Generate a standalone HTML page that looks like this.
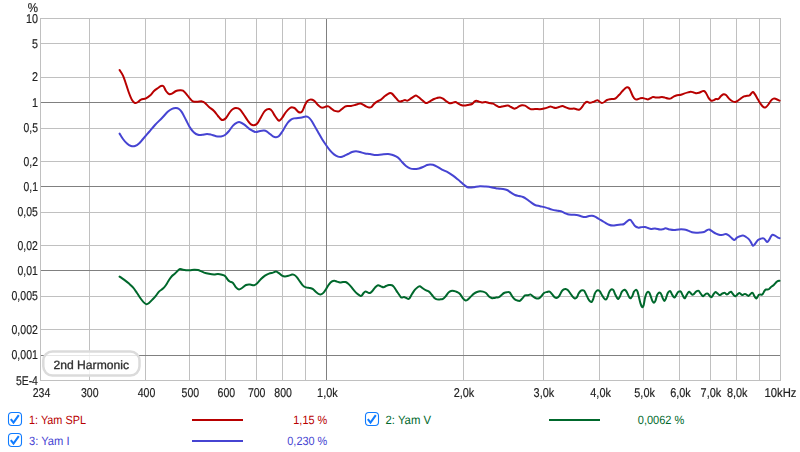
<!DOCTYPE html>
<html><head><meta charset="utf-8"><title>Distortion</title>
<style>html,body{margin:0;padding:0;background:#fff;overflow:hidden}svg{display:block}text{font-family:"Liberation Sans", sans-serif;font-size:12px;text-rendering:geometricPrecision}.ax text{font-size:12.8px;stroke:#222;stroke-width:0.18px}</style>
</head><body>
<svg width="800" height="452" viewBox="0 0 800 452">
<rect x="0" y="0" width="800" height="452" fill="#ffffff"/>
<g shape-rendering="crispEdges"><rect x="89" y="18" width="1" height="363" fill="#c0c0c0"/><rect x="145" y="18" width="1" height="363" fill="#c0c0c0"/><rect x="189" y="18" width="1" height="363" fill="#c0c0c0"/><rect x="225" y="18" width="1" height="363" fill="#c0c0c0"/><rect x="256" y="18" width="1" height="363" fill="#c0c0c0"/><rect x="282" y="18" width="1" height="363" fill="#c0c0c0"/><rect x="305" y="18" width="1" height="363" fill="#c0c0c0"/><rect x="326" y="18" width="1" height="363" fill="#808080"/><rect x="463" y="18" width="1" height="363" fill="#c0c0c0"/><rect x="543" y="18" width="1" height="363" fill="#c0c0c0"/><rect x="599" y="18" width="1" height="363" fill="#c0c0c0"/><rect x="643" y="18" width="1" height="363" fill="#c0c0c0"/><rect x="679" y="18" width="1" height="363" fill="#c0c0c0"/><rect x="710" y="18" width="1" height="363" fill="#c0c0c0"/><rect x="736" y="18" width="1" height="363" fill="#c0c0c0"/><rect x="759" y="18" width="1" height="363" fill="#c0c0c0"/><rect x="40" y="43" width="741" height="1" fill="#c0c0c0"/><rect x="40" y="77" width="741" height="1" fill="#c0c0c0"/><rect x="40" y="102" width="741" height="1" fill="#808080"/><rect x="40" y="128" width="741" height="1" fill="#c0c0c0"/><rect x="40" y="161" width="741" height="1" fill="#c0c0c0"/><rect x="40" y="186" width="741" height="1" fill="#808080"/><rect x="40" y="212" width="741" height="1" fill="#c0c0c0"/><rect x="40" y="245" width="741" height="1" fill="#c0c0c0"/><rect x="40" y="270" width="741" height="1" fill="#808080"/><rect x="40" y="296" width="741" height="1" fill="#c0c0c0"/><rect x="40" y="329" width="741" height="1" fill="#c0c0c0"/><rect x="40" y="355" width="741" height="1" fill="#808080"/><rect x="326" y="18" width="1" height="363" fill="#808080"/><rect x="40" y="18" width="741" height="1" fill="#c0c0c0"/><rect x="40" y="380" width="741" height="1" fill="#c0c0c0"/><rect x="40" y="18" width="1" height="363" fill="#c0c0c0"/><rect x="780" y="18" width="1" height="363" fill="#c0c0c0"/></g>
<path d="M119.60 276.60C120.33 277.10 122.43 278.43 124.00 279.60C125.57 280.77 127.50 282.30 129.00 283.60C130.50 284.90 131.67 285.83 133.00 287.40C134.33 288.97 135.67 291.07 137.00 293.00C138.33 294.93 139.83 297.40 141.00 299.00C142.17 300.60 143.10 301.73 144.00 302.60C144.90 303.47 145.57 304.13 146.40 304.20C147.23 304.27 147.90 303.87 149.00 303.00C150.10 302.13 151.83 300.23 153.00 299.00C154.17 297.77 155.00 296.83 156.00 295.60C157.00 294.37 157.83 292.77 159.00 291.60C160.17 290.43 161.83 289.70 163.00 288.60C164.17 287.50 165.00 286.43 166.00 285.00C167.00 283.57 168.00 281.50 169.00 280.00C170.00 278.50 171.00 277.07 172.00 276.00C173.00 274.93 174.00 274.53 175.00 273.60C176.00 272.67 177.17 271.17 178.00 270.40C178.83 269.63 179.27 269.13 180.00 269.00C180.73 268.87 181.40 269.40 182.40 269.60C183.40 269.80 184.73 270.10 186.00 270.20C187.27 270.30 188.67 270.27 190.00 270.20C191.33 270.13 192.67 269.83 194.00 269.80C195.33 269.77 196.83 269.77 198.00 270.00C199.17 270.23 200.00 270.77 201.00 271.20C202.00 271.63 202.67 272.17 204.00 272.60C205.33 273.03 207.33 273.50 209.00 273.80C210.67 274.10 212.50 274.37 214.00 274.40C215.50 274.43 216.67 273.93 218.00 274.00C219.33 274.07 220.83 274.47 222.00 274.80C223.17 275.13 224.00 275.13 225.00 276.00C226.00 276.87 227.17 279.07 228.00 280.00C228.83 280.93 229.17 281.10 230.00 281.60C230.83 282.10 232.00 282.03 233.00 283.00C234.00 283.97 235.00 286.33 236.00 287.40C237.00 288.47 238.00 289.30 239.00 289.40C240.00 289.50 240.83 288.73 242.00 288.00C243.17 287.27 244.67 285.57 246.00 285.00C247.33 284.43 248.67 284.57 250.00 284.60C251.33 284.63 252.83 285.37 254.00 285.20C255.17 285.03 255.83 284.63 257.00 283.60C258.17 282.57 259.67 280.33 261.00 279.00C262.33 277.67 263.67 276.50 265.00 275.60C266.33 274.70 267.67 274.10 269.00 273.60C270.33 273.10 271.83 272.93 273.00 272.60C274.17 272.27 275.00 271.50 276.00 271.60C277.00 271.70 278.00 272.53 279.00 273.20C280.00 273.87 281.00 275.07 282.00 275.60C283.00 276.13 283.83 276.40 285.00 276.40C286.17 276.40 287.83 275.90 289.00 275.60C290.17 275.30 291.10 274.70 292.00 274.60C292.90 274.50 293.57 274.53 294.40 275.00C295.23 275.47 296.07 276.30 297.00 277.40C297.93 278.50 299.00 280.23 300.00 281.60C301.00 282.97 302.00 284.63 303.00 285.60C304.00 286.57 304.83 287.00 306.00 287.40C307.17 287.80 308.83 287.70 310.00 288.00C311.17 288.30 312.00 288.53 313.00 289.20C314.00 289.87 315.00 291.17 316.00 292.00C317.00 292.83 318.17 293.80 319.00 294.20C319.83 294.60 320.23 294.67 321.00 294.40C321.77 294.13 322.77 293.47 323.60 292.60C324.43 291.73 325.10 290.57 326.00 289.20C326.90 287.83 328.00 285.70 329.00 284.40C330.00 283.10 331.10 282.00 332.00 281.40C332.90 280.80 333.57 280.77 334.40 280.80C335.23 280.83 336.07 281.33 337.00 281.60C337.93 281.87 339.00 282.33 340.00 282.40C341.00 282.47 342.07 282.07 343.00 282.00C343.93 281.93 344.77 281.73 345.60 282.00C346.43 282.27 347.10 282.83 348.00 283.60C348.90 284.37 350.00 285.47 351.00 286.60C352.00 287.73 353.00 289.23 354.00 290.40C355.00 291.57 356.00 292.73 357.00 293.60C358.00 294.47 359.23 295.23 360.00 295.60C360.77 295.97 361.00 296.23 361.60 295.80C362.20 295.37 362.93 293.70 363.60 293.00C364.27 292.30 364.87 291.67 365.60 291.60C366.33 291.53 367.27 292.37 368.00 292.60C368.73 292.83 369.27 293.27 370.00 293.00C370.73 292.73 371.57 291.90 372.40 291.00C373.23 290.10 374.07 288.57 375.00 287.60C375.93 286.63 377.00 285.40 378.00 285.20C379.00 285.00 380.07 286.07 381.00 286.40C381.93 286.73 382.77 287.27 383.60 287.20C384.43 287.13 385.10 286.37 386.00 286.00C386.90 285.63 388.00 285.13 389.00 285.00C390.00 284.87 391.17 284.87 392.00 285.20C392.83 285.53 393.17 285.93 394.00 287.00C394.83 288.07 396.00 290.10 397.00 291.60C398.00 293.10 399.23 295.00 400.00 296.00C400.77 297.00 400.93 297.43 401.60 297.60C402.27 297.77 403.20 296.93 404.00 297.00C404.80 297.07 405.57 297.70 406.40 298.00C407.23 298.30 408.07 299.47 409.00 298.80C409.93 298.13 411.00 295.53 412.00 294.00C413.00 292.47 414.00 290.77 415.00 289.60C416.00 288.43 417.17 287.57 418.00 287.00C418.83 286.43 419.27 286.03 420.00 286.20C420.73 286.37 421.47 287.33 422.40 288.00C423.33 288.67 424.50 289.60 425.60 290.20C426.70 290.80 427.93 290.80 429.00 291.60C430.07 292.40 431.10 293.93 432.00 295.00C432.90 296.07 433.57 297.27 434.40 298.00C435.23 298.73 436.07 299.17 437.00 299.40C437.93 299.63 439.00 299.50 440.00 299.40C441.00 299.30 442.07 299.30 443.00 298.80C443.93 298.30 444.70 297.43 445.60 296.40C446.50 295.37 447.50 293.50 448.40 292.60C449.30 291.70 450.07 291.27 451.00 291.00C451.93 290.73 453.00 290.83 454.00 291.00C455.00 291.17 456.00 291.50 457.00 292.00C458.00 292.50 459.00 292.93 460.00 294.00C461.00 295.07 462.07 297.30 463.00 298.40C463.93 299.50 464.77 300.43 465.60 300.60C466.43 300.77 467.10 300.10 468.00 299.40C468.90 298.70 470.00 297.37 471.00 296.40C472.00 295.43 473.00 294.33 474.00 293.60C475.00 292.87 476.00 292.40 477.00 292.00C478.00 291.60 479.00 291.27 480.00 291.20C481.00 291.13 482.00 291.30 483.00 291.60C484.00 291.90 485.00 292.20 486.00 293.00C487.00 293.80 488.07 295.57 489.00 296.40C489.93 297.23 490.77 297.73 491.60 298.00C492.43 298.27 493.20 298.10 494.00 298.00C494.80 297.90 495.57 297.53 496.40 297.40C497.23 297.27 498.13 297.60 499.00 297.20C499.87 296.80 500.77 295.70 501.60 295.00C502.43 294.30 503.10 293.47 504.00 293.00C504.90 292.53 506.07 292.30 507.00 292.20C507.93 292.10 508.77 291.77 509.60 292.40C510.43 293.03 511.20 294.90 512.00 296.00C512.80 297.10 513.57 298.27 514.40 299.00C515.23 299.73 516.07 300.10 517.00 300.40C517.93 300.70 519.10 301.13 520.00 300.80C520.90 300.47 521.57 299.30 522.40 298.40C523.23 297.50 524.07 295.93 525.00 295.40C525.93 294.87 527.10 295.37 528.00 295.20C528.90 295.03 529.57 294.20 530.40 294.40C531.23 294.60 532.07 295.77 533.00 296.40C533.93 297.03 535.00 297.90 536.00 298.20C537.00 298.50 538.07 298.57 539.00 298.20C539.93 297.83 540.77 296.87 541.60 296.00C542.43 295.13 543.10 293.67 544.00 293.00C544.90 292.33 546.07 292.23 547.00 292.00C547.93 291.77 548.72 291.20 549.60 291.60C550.48 292.00 551.48 293.48 552.30 294.40C553.12 295.32 553.68 296.53 554.50 297.10C555.32 297.67 556.40 298.00 557.20 297.80C558.00 297.60 558.55 296.97 559.30 295.90C560.05 294.83 560.95 292.48 561.70 291.40C562.45 290.32 563.17 289.82 563.80 289.40C564.43 288.98 564.85 288.80 565.50 288.90C566.15 289.00 566.90 289.27 567.70 290.00C568.50 290.73 569.48 292.20 570.30 293.30C571.12 294.40 571.85 295.75 572.60 296.60C573.35 297.45 574.10 298.27 574.80 298.40C575.50 298.53 576.17 298.20 576.80 297.40C577.43 296.60 577.98 294.68 578.60 293.60C579.22 292.52 579.88 291.45 580.50 290.90C581.12 290.35 581.67 290.30 582.30 290.30C582.93 290.30 583.67 290.22 584.30 290.90C584.93 291.58 585.43 293.07 586.10 294.40C586.77 295.73 587.60 297.70 588.30 298.90C589.00 300.10 589.73 301.10 590.30 301.60C590.87 302.10 591.20 302.35 591.70 301.90C592.20 301.45 592.78 300.28 593.30 298.90C593.82 297.52 594.25 294.93 594.80 293.60C595.35 292.27 596.05 291.45 596.60 290.90C597.15 290.35 597.55 290.22 598.10 290.30C598.65 290.38 599.27 290.60 599.90 291.40C600.53 292.20 601.20 293.93 601.90 295.10C602.60 296.27 603.43 297.65 604.10 298.40C604.77 299.15 605.35 299.77 605.90 299.60C606.45 299.43 606.90 298.52 607.40 297.40C607.90 296.28 608.38 294.10 608.90 292.90C609.42 291.70 609.98 290.82 610.50 290.20C611.02 289.58 611.50 289.18 612.00 289.20C612.50 289.22 612.93 289.37 613.50 290.30C614.07 291.23 614.78 293.50 615.40 294.80C616.02 296.10 616.70 297.42 617.20 298.10C617.70 298.78 617.95 299.15 618.40 298.90C618.85 298.65 619.35 297.73 619.90 296.60C620.45 295.47 621.12 293.17 621.70 292.10C622.28 291.03 622.90 290.58 623.40 290.20C623.90 289.82 624.20 289.60 624.70 289.80C625.20 290.00 625.82 290.52 626.40 291.40C626.98 292.28 627.65 294.03 628.20 295.10C628.75 296.17 629.25 297.30 629.70 297.80C630.15 298.30 630.45 298.42 630.90 298.10C631.35 297.78 631.90 296.95 632.40 295.90C632.90 294.85 633.42 292.75 633.90 291.80C634.38 290.85 634.87 290.50 635.30 290.20C635.73 289.90 636.10 289.68 636.50 290.00C636.90 290.32 637.28 290.87 637.70 292.10C638.12 293.33 638.53 295.52 639.00 297.40C639.47 299.28 640.05 301.90 640.50 303.40C640.95 304.90 641.35 305.78 641.70 306.40C642.05 307.02 642.27 307.35 642.60 307.10C642.93 306.85 643.30 306.40 643.70 304.90C644.10 303.40 644.53 300.03 645.00 298.10C645.47 296.17 646.00 294.37 646.50 293.30C647.00 292.23 647.50 291.77 648.00 291.70C648.50 291.63 648.98 291.95 649.50 292.90C650.02 293.85 650.57 295.95 651.10 297.40C651.63 298.85 652.18 300.73 652.70 301.60C653.22 302.47 653.72 302.80 654.20 302.60C654.68 302.40 655.12 301.65 655.60 300.40C656.08 299.15 656.60 296.35 657.10 295.10C657.60 293.85 658.15 293.30 658.60 292.90C659.05 292.50 659.35 292.45 659.80 292.70C660.25 292.95 660.80 293.45 661.30 294.40C661.80 295.35 662.28 297.32 662.80 298.40C663.32 299.48 663.88 300.88 664.40 300.90C664.92 300.92 665.35 299.78 665.90 298.50C666.45 297.22 667.13 294.38 667.70 293.20C668.27 292.02 668.83 291.70 669.30 291.40C669.77 291.10 670.05 290.90 670.50 291.40C670.95 291.90 671.50 293.48 672.00 294.40C672.50 295.32 673.05 296.40 673.50 296.90C673.95 297.40 674.25 297.70 674.70 297.40C675.15 297.10 675.65 295.98 676.20 295.10C676.75 294.22 677.45 292.72 678.00 292.10C678.55 291.48 679.00 291.45 679.50 291.40C680.00 291.35 680.48 291.18 681.00 291.80C681.52 292.42 682.08 294.10 682.60 295.10C683.12 296.10 683.68 297.30 684.10 297.80C684.52 298.30 684.68 298.55 685.10 298.10C685.52 297.65 686.10 296.02 686.60 295.10C687.10 294.18 687.65 293.15 688.10 292.60C688.55 292.05 688.85 291.68 689.30 291.80C689.75 291.92 690.30 292.82 690.80 293.30C691.30 293.78 691.80 294.57 692.30 294.70C692.80 294.83 693.25 294.53 693.80 294.10C694.35 293.67 695.02 292.63 695.60 292.10C696.18 291.57 696.80 291.12 697.30 290.90C697.80 290.68 698.12 290.47 698.60 290.80C699.08 291.13 699.68 292.18 700.20 292.90C700.72 293.62 701.20 294.55 701.70 295.10C702.20 295.65 702.68 296.27 703.20 296.20C703.72 296.13 704.28 295.13 704.80 294.70C705.32 294.27 705.80 293.78 706.30 293.60C706.80 293.42 707.30 293.30 707.80 293.60C708.30 293.90 708.80 294.85 709.30 295.40C709.80 295.95 710.37 296.65 710.80 296.90C711.23 297.15 711.47 297.32 711.90 296.90C712.33 296.48 712.90 295.15 713.40 294.40C713.90 293.65 714.48 292.78 714.90 292.40C715.32 292.02 715.48 291.95 715.90 292.10C716.32 292.25 716.87 292.85 717.40 293.30C717.93 293.75 718.57 294.55 719.10 294.80C719.63 295.05 720.10 295.00 720.60 294.80C721.10 294.60 721.55 293.92 722.10 293.60C722.65 293.28 723.40 293.00 723.90 292.90C724.40 292.80 724.65 292.75 725.10 293.00C725.55 293.25 726.10 294.25 726.60 294.40C727.10 294.55 727.60 294.23 728.10 293.90C728.60 293.57 729.10 292.75 729.60 292.40C730.10 292.05 730.60 291.60 731.10 291.80C731.60 292.00 732.10 292.97 732.60 293.60C733.10 294.23 733.60 295.15 734.10 295.60C734.60 296.05 735.10 296.43 735.60 296.30C736.10 296.17 736.60 295.30 737.10 294.80C737.60 294.30 738.17 293.57 738.60 293.30C739.03 293.03 739.27 293.02 739.70 293.20C740.13 293.38 740.70 294.08 741.20 294.40C741.70 294.72 742.20 295.15 742.70 295.10C743.20 295.05 743.70 294.27 744.20 294.10C744.70 293.93 745.20 293.93 745.70 294.10C746.20 294.27 746.70 294.80 747.20 295.10C747.70 295.40 748.20 296.02 748.70 295.90C749.20 295.78 749.70 294.90 750.20 294.40C750.70 293.90 751.25 293.10 751.70 292.90C752.15 292.70 752.47 292.70 752.90 293.20C753.33 293.70 753.87 295.13 754.30 295.90C754.73 296.67 755.13 297.38 755.50 297.80C755.87 298.22 756.13 298.60 756.50 298.40C756.87 298.20 757.30 297.22 757.70 296.60C758.10 295.98 758.47 295.07 758.90 294.70C759.33 294.33 759.82 294.38 760.30 294.40C760.78 294.42 761.35 294.93 761.80 294.80C762.25 294.67 762.55 294.25 763.00 293.60C763.45 292.95 764.00 291.58 764.50 290.90C765.00 290.22 765.37 289.75 766.00 289.50C766.63 289.25 767.67 289.60 768.30 289.40C768.93 289.20 769.30 288.73 769.80 288.30C770.30 287.87 770.68 287.30 771.30 286.80C771.92 286.30 772.80 285.92 773.50 285.30C774.20 284.68 774.87 283.77 775.50 283.10C776.13 282.43 776.63 281.68 777.30 281.30C777.97 280.92 779.13 280.88 779.50 280.80" fill="none" stroke="#00682c" stroke-width="2.0" stroke-linecap="round" stroke-linejoin="round"/>
<path d="M119.60 133.60C120.17 134.50 121.77 137.33 123.00 139.00C124.23 140.67 125.67 142.43 127.00 143.60C128.33 144.77 129.67 145.60 131.00 146.00C132.33 146.40 133.67 146.40 135.00 146.00C136.33 145.60 137.67 144.77 139.00 143.60C140.33 142.43 141.33 140.93 143.00 139.00C144.67 137.07 147.00 134.33 149.00 132.00C151.00 129.67 152.83 127.33 155.00 125.00C157.17 122.67 159.83 120.23 162.00 118.00C164.17 115.77 166.33 113.13 168.00 111.60C169.67 110.07 170.67 109.40 172.00 108.80C173.33 108.20 174.83 107.97 176.00 108.00C177.17 108.03 178.00 108.27 179.00 109.00C180.00 109.73 180.83 110.57 182.00 112.40C183.17 114.23 184.67 117.47 186.00 120.00C187.33 122.53 188.67 125.53 190.00 127.60C191.33 129.67 192.67 131.20 194.00 132.40C195.33 133.60 196.67 134.40 198.00 134.80C199.33 135.20 200.50 134.93 202.00 134.80C203.50 134.67 205.50 134.03 207.00 134.00C208.50 133.97 209.50 134.23 211.00 134.60C212.50 134.97 214.33 135.90 216.00 136.20C217.67 136.50 219.50 136.60 221.00 136.40C222.50 136.20 223.67 135.90 225.00 135.00C226.33 134.10 227.67 132.57 229.00 131.00C230.33 129.43 231.67 127.00 233.00 125.60C234.33 124.20 235.83 123.17 237.00 122.60C238.17 122.03 238.83 121.90 240.00 122.20C241.17 122.50 242.50 123.33 244.00 124.40C245.50 125.47 247.50 127.50 249.00 128.60C250.50 129.70 251.83 130.43 253.00 131.00C254.17 131.57 254.83 132.00 256.00 132.00C257.17 132.00 258.67 131.23 260.00 131.00C261.33 130.77 262.83 130.50 264.00 130.60C265.17 130.70 266.00 131.03 267.00 131.60C268.00 132.17 269.00 133.20 270.00 134.00C271.00 134.80 272.00 135.87 273.00 136.40C274.00 136.93 275.00 137.27 276.00 137.20C277.00 137.13 278.00 136.87 279.00 136.00C280.00 135.13 281.00 133.50 282.00 132.00C283.00 130.50 284.00 128.60 285.00 127.00C286.00 125.40 287.00 123.63 288.00 122.40C289.00 121.17 290.00 120.27 291.00 119.60C292.00 118.93 292.83 118.67 294.00 118.40C295.17 118.13 296.67 118.17 298.00 118.00C299.33 117.83 300.73 117.63 302.00 117.40C303.27 117.17 304.60 116.67 305.60 116.60C306.60 116.53 307.10 116.43 308.00 117.00C308.90 117.57 310.00 118.67 311.00 120.00C312.00 121.33 312.83 123.00 314.00 125.00C315.17 127.00 316.67 129.67 318.00 132.00C319.33 134.33 320.67 136.83 322.00 139.00C323.33 141.17 324.67 143.10 326.00 145.00C327.33 146.90 328.67 148.83 330.00 150.40C331.33 151.97 332.67 153.37 334.00 154.40C335.33 155.43 336.83 156.17 338.00 156.60C339.17 157.03 340.00 157.10 341.00 157.00C342.00 156.90 342.83 156.50 344.00 156.00C345.17 155.50 346.67 154.67 348.00 154.00C349.33 153.33 350.67 152.47 352.00 152.00C353.33 151.53 354.67 151.20 356.00 151.20C357.33 151.20 358.50 151.63 360.00 152.00C361.50 152.37 363.33 153.07 365.00 153.40C366.67 153.73 368.17 153.73 370.00 154.00C371.83 154.27 374.00 154.93 376.00 155.00C378.00 155.07 380.00 154.57 382.00 154.40C384.00 154.23 386.33 153.93 388.00 154.00C389.67 154.07 390.67 154.40 392.00 154.80C393.33 155.20 394.83 155.80 396.00 156.40C397.17 157.00 398.00 157.47 399.00 158.40C400.00 159.33 400.83 160.73 402.00 162.00C403.17 163.27 404.67 164.93 406.00 166.00C407.33 167.07 408.67 167.90 410.00 168.40C411.33 168.90 412.50 169.00 414.00 169.00C415.50 169.00 417.50 168.73 419.00 168.40C420.50 168.07 421.67 167.57 423.00 167.00C424.33 166.43 425.83 165.43 427.00 165.00C428.17 164.57 429.00 164.43 430.00 164.40C431.00 164.37 431.83 164.43 433.00 164.80C434.17 165.17 435.50 165.80 437.00 166.60C438.50 167.40 440.17 168.63 442.00 169.60C443.83 170.57 446.17 171.40 448.00 172.40C449.83 173.40 451.33 174.40 453.00 175.60C454.67 176.80 456.33 178.20 458.00 179.60C459.67 181.00 461.50 182.77 463.00 184.00C464.50 185.23 465.83 186.40 467.00 187.00C468.17 187.60 468.83 187.57 470.00 187.60C471.17 187.63 472.33 187.43 474.00 187.20C475.67 186.97 478.00 186.30 480.00 186.20C482.00 186.10 484.00 186.40 486.00 186.60C488.00 186.80 490.00 187.07 492.00 187.40C494.00 187.73 496.17 188.33 498.00 188.60C499.83 188.87 501.50 188.77 503.00 189.00C504.50 189.23 505.67 189.40 507.00 190.00C508.33 190.60 509.67 191.77 511.00 192.60C512.33 193.43 513.67 194.43 515.00 195.00C516.33 195.57 517.67 195.67 519.00 196.00C520.33 196.33 521.67 196.43 523.00 197.00C524.33 197.57 525.67 198.50 527.00 199.40C528.33 200.30 529.67 201.47 531.00 202.40C532.33 203.33 533.50 204.37 535.00 205.00C536.50 205.63 538.17 205.77 540.00 206.20C541.83 206.63 544.00 207.03 546.00 207.60C548.00 208.17 550.00 209.07 552.00 209.60C554.00 210.13 556.33 210.47 558.00 210.80C559.67 211.13 560.67 211.13 562.00 211.60C563.33 212.07 564.83 213.10 566.00 213.60C567.17 214.10 567.83 214.40 569.00 214.60C570.17 214.80 571.50 214.70 573.00 214.80C574.50 214.90 576.67 214.97 578.00 215.20C579.33 215.43 579.83 215.90 581.00 216.20C582.17 216.50 583.67 217.03 585.00 217.00C586.33 216.97 587.83 216.20 589.00 216.00C590.17 215.80 591.00 215.70 592.00 215.80C593.00 215.90 593.83 216.07 595.00 216.60C596.17 217.13 597.50 218.10 599.00 219.00C600.50 219.90 602.33 221.03 604.00 222.00C605.67 222.97 607.50 224.20 609.00 224.80C610.50 225.40 611.67 225.57 613.00 225.60C614.33 225.63 615.67 225.17 617.00 225.00C618.33 224.83 619.83 224.77 621.00 224.60C622.17 224.43 623.00 224.53 624.00 224.00C625.00 223.47 626.17 222.07 627.00 221.40C627.83 220.73 628.40 220.23 629.00 220.00C629.60 219.77 630.03 219.60 630.60 220.00C631.17 220.40 631.67 221.40 632.40 222.40C633.13 223.40 634.07 225.13 635.00 226.00C635.93 226.87 637.00 227.40 638.00 227.60C639.00 227.80 639.83 227.30 641.00 227.20C642.17 227.10 643.83 226.87 645.00 227.00C646.17 227.13 647.00 227.67 648.00 228.00C649.00 228.33 649.83 228.93 651.00 229.00C652.17 229.07 653.50 228.30 655.00 228.40C656.50 228.50 658.67 229.47 660.00 229.60C661.33 229.73 662.07 229.42 663.00 229.20C663.93 228.98 664.43 228.23 665.60 228.30C666.77 228.37 668.60 229.30 670.00 229.60C671.40 229.90 672.50 230.13 674.00 230.10C675.50 230.07 677.33 229.50 679.00 229.40C680.67 229.30 682.50 229.30 684.00 229.50C685.50 229.70 686.67 230.13 688.00 230.60C689.33 231.07 690.67 231.93 692.00 232.30C693.33 232.67 694.67 232.75 696.00 232.80C697.33 232.85 698.67 232.73 700.00 232.60C701.33 232.47 702.83 232.40 704.00 232.00C705.17 231.60 706.13 230.63 707.00 230.20C707.87 229.77 708.37 229.23 709.20 229.40C710.03 229.57 710.87 230.50 712.00 231.20C713.13 231.90 714.67 232.97 716.00 233.60C717.33 234.23 718.83 234.80 720.00 235.00C721.17 235.20 722.00 234.97 723.00 234.80C724.00 234.63 725.00 233.87 726.00 234.00C727.00 234.13 728.00 234.87 729.00 235.60C730.00 236.33 731.10 237.67 732.00 238.40C732.90 239.13 733.57 240.13 734.40 240.00C735.23 239.87 736.07 238.23 737.00 237.60C737.93 236.97 739.00 236.53 740.00 236.20C741.00 235.87 742.00 235.47 743.00 235.60C744.00 235.73 745.00 236.37 746.00 237.00C747.00 237.63 748.17 238.50 749.00 239.40C749.83 240.30 750.33 241.33 751.00 242.40C751.67 243.47 752.33 245.53 753.00 245.80C753.67 246.07 754.17 244.97 755.00 244.00C755.83 243.03 757.00 240.90 758.00 240.00C759.00 239.10 760.07 238.87 761.00 238.60C761.93 238.33 762.83 238.10 763.60 238.40C764.37 238.70 765.00 239.80 765.60 240.40C766.20 241.00 766.63 242.07 767.20 242.00C767.77 241.93 768.37 240.93 769.00 240.00C769.63 239.07 770.40 237.27 771.00 236.40C771.60 235.53 771.93 234.93 772.60 234.80C773.27 234.67 774.10 235.13 775.00 235.60C775.90 236.07 777.23 237.17 778.00 237.60C778.77 238.03 779.33 238.10 779.60 238.20" fill="none" stroke="#4644d2" stroke-width="2.0" stroke-linecap="round" stroke-linejoin="round"/>
<path d="M119.60 70.00C120.17 70.93 121.93 73.27 123.00 75.60C124.07 77.93 125.00 81.10 126.00 84.00C127.00 86.90 128.00 90.33 129.00 93.00C130.00 95.67 131.00 98.33 132.00 100.00C133.00 101.67 134.00 102.67 135.00 103.00C136.00 103.33 137.00 102.57 138.00 102.00C139.00 101.43 139.67 100.20 141.00 99.60C142.33 99.00 144.50 99.07 146.00 98.40C147.50 97.73 148.67 96.83 150.00 95.60C151.33 94.37 152.67 92.27 154.00 91.00C155.33 89.73 156.83 88.83 158.00 88.00C159.17 87.17 160.07 86.27 161.00 86.00C161.93 85.73 162.77 85.57 163.60 86.40C164.43 87.23 165.10 89.73 166.00 91.00C166.90 92.27 168.00 93.57 169.00 94.00C170.00 94.43 170.83 94.10 172.00 93.60C173.17 93.10 174.67 91.57 176.00 91.00C177.33 90.43 178.83 90.27 180.00 90.20C181.17 90.13 182.00 90.03 183.00 90.60C184.00 91.17 184.83 92.27 186.00 93.60C187.17 94.93 188.83 97.30 190.00 98.60C191.17 99.90 191.83 100.87 193.00 101.40C194.17 101.93 195.50 101.80 197.00 101.80C198.50 101.80 200.67 101.20 202.00 101.40C203.33 101.60 203.83 102.07 205.00 103.00C206.17 103.93 207.50 105.67 209.00 107.00C210.50 108.33 212.50 109.50 214.00 111.00C215.50 112.50 216.83 114.60 218.00 116.00C219.17 117.40 220.17 118.73 221.00 119.40C221.83 120.07 222.17 120.23 223.00 120.00C223.83 119.77 224.83 119.33 226.00 118.00C227.17 116.67 228.83 113.50 230.00 112.00C231.17 110.50 232.00 109.67 233.00 109.00C234.00 108.33 234.83 107.93 236.00 108.00C237.17 108.07 238.67 108.23 240.00 109.40C241.33 110.57 242.67 113.07 244.00 115.00C245.33 116.93 246.83 119.43 248.00 121.00C249.17 122.57 250.00 123.70 251.00 124.40C252.00 125.10 253.00 125.30 254.00 125.20C255.00 125.10 256.00 124.83 257.00 123.80C258.00 122.77 258.83 120.97 260.00 119.00C261.17 117.03 262.83 113.60 264.00 112.00C265.17 110.40 266.10 109.90 267.00 109.40C267.90 108.90 268.57 108.73 269.40 109.00C270.23 109.27 271.07 109.83 272.00 111.00C272.93 112.17 274.00 114.50 275.00 116.00C276.00 117.50 277.27 119.23 278.00 120.00C278.73 120.77 278.73 120.93 279.40 120.60C280.07 120.27 280.90 119.43 282.00 118.00C283.10 116.57 284.67 113.67 286.00 112.00C287.33 110.33 288.90 108.77 290.00 108.00C291.10 107.23 291.77 107.33 292.60 107.40C293.43 107.47 294.10 107.70 295.00 108.40C295.90 109.10 297.10 110.90 298.00 111.60C298.90 112.30 299.67 112.70 300.40 112.60C301.13 112.50 301.63 112.27 302.40 111.00C303.17 109.73 304.17 106.67 305.00 105.00C305.83 103.33 306.57 101.90 307.40 101.00C308.23 100.10 309.17 99.80 310.00 99.60C310.83 99.40 311.57 99.47 312.40 99.80C313.23 100.13 314.07 100.73 315.00 101.60C315.93 102.47 317.00 104.03 318.00 105.00C319.00 105.97 320.17 106.97 321.00 107.40C321.83 107.83 322.17 107.73 323.00 107.60C323.83 107.47 325.10 106.80 326.00 106.60C326.90 106.40 327.57 106.10 328.40 106.40C329.23 106.70 330.07 107.70 331.00 108.40C331.93 109.10 332.83 110.10 334.00 110.60C335.17 111.10 337.07 111.33 338.00 111.40C338.93 111.47 338.93 111.40 339.60 111.00C340.27 110.60 341.10 109.73 342.00 109.00C342.90 108.27 344.00 107.10 345.00 106.60C346.00 106.10 347.00 106.10 348.00 106.00C349.00 105.90 349.83 106.17 351.00 106.00C352.17 105.83 353.83 105.33 355.00 105.00C356.17 104.67 357.10 104.23 358.00 104.00C358.90 103.77 359.57 103.50 360.40 103.60C361.23 103.70 362.07 104.13 363.00 104.60C363.93 105.07 365.00 105.93 366.00 106.40C367.00 106.87 368.10 107.30 369.00 107.40C369.90 107.50 370.57 107.57 371.40 107.00C372.23 106.43 373.07 104.90 374.00 104.00C374.93 103.10 375.83 102.33 377.00 101.60C378.17 100.87 379.67 100.53 381.00 99.60C382.33 98.67 383.83 96.93 385.00 96.00C386.17 95.07 387.17 94.50 388.00 94.00C388.83 93.50 389.33 93.07 390.00 93.00C390.67 92.93 391.17 92.93 392.00 93.60C392.83 94.27 394.00 95.87 395.00 97.00C396.00 98.13 397.10 99.63 398.00 100.40C398.90 101.17 399.57 101.57 400.40 101.60C401.23 101.63 402.23 100.87 403.00 100.60C403.77 100.33 404.23 100.00 405.00 100.00C405.77 100.00 406.60 100.87 407.60 100.60C408.60 100.33 409.93 99.10 411.00 98.40C412.07 97.70 413.17 96.87 414.00 96.40C414.83 95.93 415.27 95.50 416.00 95.60C416.73 95.70 417.40 96.27 418.40 97.00C419.40 97.73 420.90 99.07 422.00 100.00C423.10 100.93 424.17 102.10 425.00 102.60C425.83 103.10 426.17 103.20 427.00 103.00C427.83 102.80 428.83 102.07 430.00 101.40C431.17 100.73 432.83 99.57 434.00 99.00C435.17 98.43 436.00 98.27 437.00 98.00C438.00 97.73 439.00 97.30 440.00 97.40C441.00 97.50 442.00 98.00 443.00 98.60C444.00 99.20 445.00 100.27 446.00 101.00C447.00 101.73 448.17 102.63 449.00 103.00C449.83 103.37 450.23 103.30 451.00 103.20C451.77 103.10 452.83 102.60 453.60 102.40C454.37 102.20 454.87 101.83 455.60 102.00C456.33 102.17 457.10 102.90 458.00 103.40C458.90 103.90 460.00 104.63 461.00 105.00C462.00 105.37 462.83 105.60 464.00 105.60C465.17 105.60 466.67 105.27 468.00 105.00C469.33 104.73 470.93 104.57 472.00 104.00C473.07 103.43 473.67 102.13 474.40 101.60C475.13 101.07 475.63 100.80 476.40 100.80C477.17 100.80 478.07 101.33 479.00 101.60C479.93 101.87 480.90 102.33 482.00 102.40C483.10 102.47 484.43 101.90 485.60 102.00C486.77 102.10 487.77 102.73 489.00 103.00C490.23 103.27 491.83 103.20 493.00 103.60C494.17 104.00 495.00 104.83 496.00 105.40C497.00 105.97 498.00 106.80 499.00 107.00C500.00 107.20 501.00 106.77 502.00 106.60C503.00 106.43 504.00 106.17 505.00 106.00C506.00 105.83 507.00 105.43 508.00 105.60C509.00 105.77 510.00 106.50 511.00 107.00C512.00 107.50 513.10 108.43 514.00 108.60C514.90 108.77 515.57 108.37 516.40 108.00C517.23 107.63 518.07 106.87 519.00 106.40C519.93 105.93 521.00 105.33 522.00 105.20C523.00 105.07 524.00 105.20 525.00 105.60C526.00 106.00 527.00 107.00 528.00 107.60C529.00 108.20 529.83 108.97 531.00 109.20C532.17 109.43 533.50 109.00 535.00 109.00C536.50 109.00 538.50 109.27 540.00 109.20C541.50 109.13 542.67 108.90 544.00 108.60C545.33 108.30 546.93 107.77 548.00 107.40C549.07 107.03 549.57 106.40 550.40 106.40C551.23 106.40 552.07 107.13 553.00 107.40C553.93 107.67 555.00 108.07 556.00 108.00C557.00 107.93 557.93 107.33 559.00 107.00C560.07 106.67 561.23 105.93 562.40 106.00C563.57 106.07 564.73 106.93 566.00 107.40C567.27 107.87 568.67 108.60 570.00 108.80C571.33 109.00 572.83 108.50 574.00 108.60C575.17 108.70 576.10 109.23 577.00 109.40C577.90 109.57 578.57 110.00 579.40 109.60C580.23 109.20 581.17 108.00 582.00 107.00C582.83 106.00 583.57 104.47 584.40 103.60C585.23 102.73 586.07 101.93 587.00 101.80C587.93 101.67 589.00 102.77 590.00 102.80C591.00 102.83 592.00 102.37 593.00 102.00C594.00 101.63 595.17 100.87 596.00 100.60C596.83 100.33 597.33 100.17 598.00 100.40C598.67 100.63 599.33 101.57 600.00 102.00C600.67 102.43 601.27 103.00 602.00 103.00C602.73 103.00 603.57 102.50 604.40 102.00C605.23 101.50 606.07 100.47 607.00 100.00C607.93 99.53 609.00 99.37 610.00 99.20C611.00 99.03 612.07 99.13 613.00 99.00C613.93 98.87 614.60 99.07 615.60 98.40C616.60 97.73 617.93 96.13 619.00 95.00C620.07 93.87 621.00 92.70 622.00 91.60C623.00 90.50 624.17 89.13 625.00 88.40C625.83 87.67 626.33 87.27 627.00 87.20C627.67 87.13 628.33 87.20 629.00 88.00C629.67 88.80 630.33 90.60 631.00 92.00C631.67 93.40 632.33 95.23 633.00 96.40C633.67 97.57 634.33 98.50 635.00 99.00C635.67 99.50 636.17 99.50 637.00 99.40C637.83 99.30 639.10 98.63 640.00 98.40C640.90 98.17 641.57 97.97 642.40 98.00C643.23 98.03 644.07 98.37 645.00 98.60C645.93 98.83 647.00 99.50 648.00 99.40C649.00 99.30 650.17 98.40 651.00 98.00C651.83 97.60 652.17 97.10 653.00 97.00C653.83 96.90 655.00 97.33 656.00 97.40C657.00 97.47 658.00 97.47 659.00 97.40C660.00 97.33 661.00 96.97 662.00 97.00C663.00 97.03 664.00 97.33 665.00 97.60C666.00 97.87 667.00 98.47 668.00 98.60C669.00 98.73 670.00 98.77 671.00 98.40C672.00 98.03 673.00 96.93 674.00 96.40C675.00 95.87 675.83 95.47 677.00 95.20C678.17 94.93 679.83 95.07 681.00 94.80C682.17 94.53 682.83 94.00 684.00 93.60C685.17 93.20 686.90 92.70 688.00 92.40C689.10 92.10 689.77 91.83 690.60 91.80C691.43 91.77 692.10 91.97 693.00 92.20C693.90 92.43 695.00 93.10 696.00 93.20C697.00 93.30 698.00 93.10 699.00 92.80C700.00 92.50 701.17 91.70 702.00 91.40C702.83 91.10 703.33 90.73 704.00 91.00C704.67 91.27 705.27 91.90 706.00 93.00C706.73 94.10 707.57 96.33 708.40 97.60C709.23 98.87 710.23 100.13 711.00 100.60C711.77 101.07 712.17 100.67 713.00 100.40C713.83 100.13 715.10 99.23 716.00 99.00C716.90 98.77 717.57 99.50 718.40 99.00C719.23 98.50 720.13 96.80 721.00 96.00C721.87 95.20 722.77 94.37 723.60 94.20C724.43 94.03 725.10 94.27 726.00 95.00C726.90 95.73 728.00 97.60 729.00 98.60C730.00 99.60 731.00 100.43 732.00 101.00C733.00 101.57 734.00 102.07 735.00 102.00C736.00 101.93 737.00 101.20 738.00 100.60C739.00 100.00 740.00 99.10 741.00 98.40C742.00 97.70 743.00 96.83 744.00 96.40C745.00 95.97 746.07 95.97 747.00 95.80C747.93 95.63 748.83 95.87 749.60 95.40C750.37 94.93 751.03 93.57 751.60 93.00C752.17 92.43 752.43 91.77 753.00 92.00C753.57 92.23 754.17 93.13 755.00 94.40C755.83 95.67 757.00 97.93 758.00 99.60C759.00 101.27 760.07 103.13 761.00 104.40C761.93 105.67 762.83 106.70 763.60 107.20C764.37 107.70 764.87 107.77 765.60 107.40C766.33 107.03 767.10 106.13 768.00 105.00C768.90 103.87 770.07 101.67 771.00 100.60C771.93 99.53 772.77 98.87 773.60 98.60C774.43 98.33 775.00 98.67 776.00 99.00C777.00 99.33 779.00 100.33 779.60 100.60" fill="none" stroke="#b80000" stroke-width="2.0" stroke-linecap="round" stroke-linejoin="round"/>
<g class="ax" style="will-change:transform;filter:grayscale(1)">
<text x="37.9" y="22.6" text-anchor="end" textLength="12.0" lengthAdjust="spacingAndGlyphs" fill="#222222">10</text>
<text x="37.9" y="47.9" text-anchor="end" textLength="6.0" lengthAdjust="spacingAndGlyphs" fill="#222222">5</text>
<text x="37.9" y="81.4" text-anchor="end" textLength="6.0" lengthAdjust="spacingAndGlyphs" fill="#222222">2</text>
<text x="37.9" y="106.8" text-anchor="end" textLength="6.0" lengthAdjust="spacingAndGlyphs" fill="#222222">1</text>
<text x="37.9" y="132.1" text-anchor="end" textLength="14.4" lengthAdjust="spacingAndGlyphs" fill="#222222">0,5</text>
<text x="37.9" y="165.6" text-anchor="end" textLength="14.4" lengthAdjust="spacingAndGlyphs" fill="#222222">0,2</text>
<text x="37.9" y="190.9" text-anchor="end" textLength="14.4" lengthAdjust="spacingAndGlyphs" fill="#222222">0,1</text>
<text x="37.9" y="216.3" text-anchor="end" textLength="20.4" lengthAdjust="spacingAndGlyphs" fill="#222222">0,05</text>
<text x="37.9" y="249.8" text-anchor="end" textLength="20.4" lengthAdjust="spacingAndGlyphs" fill="#222222">0,02</text>
<text x="37.9" y="275.1" text-anchor="end" textLength="20.4" lengthAdjust="spacingAndGlyphs" fill="#222222">0,01</text>
<text x="37.9" y="300.4" text-anchor="end" textLength="26.4" lengthAdjust="spacingAndGlyphs" fill="#222222">0,005</text>
<text x="37.9" y="333.9" text-anchor="end" textLength="26.4" lengthAdjust="spacingAndGlyphs" fill="#222222">0,002</text>
<text x="37.9" y="359.3" text-anchor="end" textLength="26.4" lengthAdjust="spacingAndGlyphs" fill="#222222">0,001</text>
<text x="37.9" y="384.6" text-anchor="end" textLength="22.0" lengthAdjust="spacingAndGlyphs" fill="#222222">5E-4</text>
<text x="38" y="12.3" text-anchor="end" textLength="10.3" lengthAdjust="spacingAndGlyphs" fill="#222222">%</text>
<text x="41.5" y="397.2" text-anchor="middle" textLength="17.6" lengthAdjust="spacingAndGlyphs" fill="#222222">234</text>
<text x="89.8" y="397.2" text-anchor="middle" textLength="17.6" lengthAdjust="spacingAndGlyphs" fill="#222222">300</text>
<text x="146.5" y="397.2" text-anchor="middle" textLength="17.6" lengthAdjust="spacingAndGlyphs" fill="#222222">400</text>
<text x="190.4" y="397.2" text-anchor="middle" textLength="17.6" lengthAdjust="spacingAndGlyphs" fill="#222222">500</text>
<text x="226.4" y="397.2" text-anchor="middle" textLength="17.6" lengthAdjust="spacingAndGlyphs" fill="#222222">600</text>
<text x="256.7" y="397.2" text-anchor="middle" textLength="17.6" lengthAdjust="spacingAndGlyphs" fill="#222222">700</text>
<text x="283.1" y="397.2" text-anchor="middle" textLength="17.6" lengthAdjust="spacingAndGlyphs" fill="#222222">800</text>
<text x="327.4" y="397.2" text-anchor="middle" textLength="20.6" lengthAdjust="spacingAndGlyphs" fill="#222222">1,0k</text>
<text x="464.0" y="397.2" text-anchor="middle" textLength="20.6" lengthAdjust="spacingAndGlyphs" fill="#222222">2,0k</text>
<text x="543.9" y="397.2" text-anchor="middle" textLength="20.6" lengthAdjust="spacingAndGlyphs" fill="#222222">3,0k</text>
<text x="600.6" y="397.2" text-anchor="middle" textLength="20.6" lengthAdjust="spacingAndGlyphs" fill="#222222">4,0k</text>
<text x="644.6" y="397.2" text-anchor="middle" textLength="20.6" lengthAdjust="spacingAndGlyphs" fill="#222222">5,0k</text>
<text x="680.5" y="397.2" text-anchor="middle" textLength="20.6" lengthAdjust="spacingAndGlyphs" fill="#222222">6,0k</text>
<text x="710.9" y="397.2" text-anchor="middle" textLength="20.6" lengthAdjust="spacingAndGlyphs" fill="#222222">7,0k</text>
<text x="737.2" y="397.2" text-anchor="middle" textLength="20.6" lengthAdjust="spacingAndGlyphs" fill="#222222">8,0k</text>
<text x="796.5" y="397.2" text-anchor="end" textLength="32" lengthAdjust="spacingAndGlyphs" fill="#222222">10kHz</text>
</g>
<rect x="43.3" y="351.4" width="96.2" height="24.1" rx="9.2" ry="9.2" fill="#ffffff" fill-opacity="0.8" stroke="#dbdbdb" stroke-width="2.5"/>
<g style="will-change:transform;filter:grayscale(1)"><text x="53.5" y="368.8" textLength="75.5" lengthAdjust="spacingAndGlyphs" fill="#303030" stroke="#303030" stroke-width="0.32" stroke-linejoin="round">2nd Harmonic</text></g>
<rect x="8.5" y="412.5" width="13" height="13" rx="3.4" ry="3.4" fill="#ffffff" stroke="#0f7bff" stroke-width="1.1"/><path d="M10.8 419.2 L13.5 422.6 L18.8 415.2" fill="none" stroke="#0f7bff" stroke-width="2.05" stroke-linecap="butt" stroke-linejoin="miter"/>
<rect x="8.5" y="433.5" width="13" height="13" rx="3.4" ry="3.4" fill="#ffffff" stroke="#0f7bff" stroke-width="1.1"/><path d="M10.8 440.2 L13.5 443.6 L18.8 436.2" fill="none" stroke="#0f7bff" stroke-width="2.05" stroke-linecap="butt" stroke-linejoin="miter"/>
<rect x="365.5" y="412.5" width="13" height="13" rx="3.4" ry="3.4" fill="#ffffff" stroke="#0f7bff" stroke-width="1.1"/><path d="M367.8 419.2 L370.5 422.6 L375.8 415.2" fill="none" stroke="#0f7bff" stroke-width="2.05" stroke-linecap="butt" stroke-linejoin="miter"/>
<text x="29" y="424" textLength="57" lengthAdjust="spacingAndGlyphs" fill="#b80000">1: Yam SPL</text>
<text x="29" y="445" textLength="40.5" lengthAdjust="spacingAndGlyphs" fill="#4644d2">3: Yam I</text>
<text x="385.5" y="424" textLength="45.5" lengthAdjust="spacingAndGlyphs" fill="#00682c">2: Yam V</text>
<g shape-rendering="crispEdges"><rect x="192" y="419" width="51" height="2" fill="#b80000"/><rect x="192" y="440" width="51" height="2" fill="#4644d2"/><rect x="549" y="419" width="51" height="2" fill="#00682c"/></g>
<text x="327.3" y="424" text-anchor="end" textLength="34" lengthAdjust="spacingAndGlyphs" fill="#b80000">1,15 %</text>
<text x="327.3" y="445" text-anchor="end" textLength="40" lengthAdjust="spacingAndGlyphs" fill="#4644d2">0,230 %</text>
<text x="684.3" y="424" text-anchor="end" textLength="46.5" lengthAdjust="spacingAndGlyphs" fill="#00682c">0,0062 %</text>
</svg></body></html>
